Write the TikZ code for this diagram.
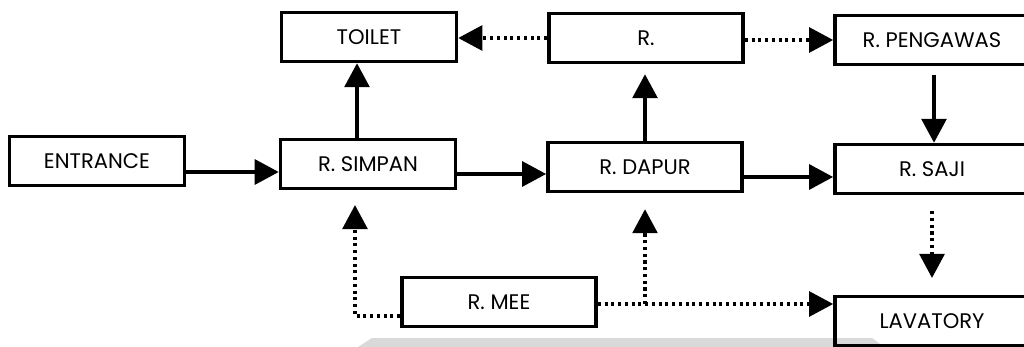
\documentclass[tikz,border=0pt]{standalone}
\usepackage{fontspec}
\setmainfont{Poppins}
\usetikzlibrary{arrows.meta}

\begin{document}
\begin{tikzpicture}[x=0.025cm, y=-0.025cm,
    room/.style={draw, line width=2.6pt, minimum height=1.22cm, inner sep=0pt,
      font=\fontsize{15}{17}\selectfont},
    shortroom/.style={room, minimum width=4.37cm},
    longroom/.style={room, minimum width=4.85cm},
    flow/.style={line width=2.6pt, -{Triangle[length=0.6cm, width=0.62cm]}},
    dotflow/.style={flow, line width=2.4pt, dash pattern=on 2.2pt off 2.6pt}]
  \useasboundingbox (0,0) rectangle (1024,347);

  % shadow of the scan at the bottom
  \fill [gray!30] (358,347) -- (372,338) -- (872,338) -- (884,347) -- cycle;

  % rooms
  \node [shortroom] (entrance) at (97,161)  {ENTRANCE};
  \node [shortroom] (simpan)   at (368,164) {R. SIMPAN};
  \node [shortroom] (toilet)   at (369,37)  {TOILET};
  \node [longroom]  (r)        at (646,38)  {R.};
  \node [longroom]  (dapur)    at (645,167) {R. DAPUR};
  \node [longroom]  (pengawas) at (932,40)  {R. PENGAWAS};
  \node [longroom]  (saji)     at (932,169) {R. SAJI};
  \node [longroom]  (mee)      at (499,302) {R. MEE};
  \node [longroom]  (lavatory) at (932,321) {LAVATORY};
  \coordinate (split) at (645,304);

  % main route
  \draw [flow] (entrance.east |- 0,172) -- (simpan.west |- 0,172);
  \draw [flow] (simpan.east |- 0,174) -- (dapur.west |- 0,174);
  \draw [flow] (dapur.east |- 0,177) -- (saji.west |- 0,177);
  \draw [flow] (357,0 |- simpan.north) -- (357,0 |- toilet.south);
  \draw [flow, shorten >=0.25cm] (dapur.north) -- (dapur.north |- r.south);
  \draw [flow, shorten <=0.22cm] (934,0 |- pengawas.south) -- (934,0 |- saji.north);

  % dotted routes
  \draw [dotflow] (r.west |- 0,38) -- (toilet.east |- 0,38);
  \draw [dotflow] (r.east |- 0,40) -- (pengawas.west |- 0,40);
  \draw [dotflow, shorten <=0.4cm, shorten >=0.42cm] (saji.south) -- (lavatory.north);
  \draw [dotflow] (mee.east |- 0,304) -- (lavatory.west |- 0,304);
  \draw [dotflow, shorten >=0.4cm] (split) -- (split |- dapur.south);
  \draw [dotflow, shorten >=0.37cm] (mee.west |- 0,316) -| (355,0 |- simpan.south);
\end{tikzpicture}
\end{document}
